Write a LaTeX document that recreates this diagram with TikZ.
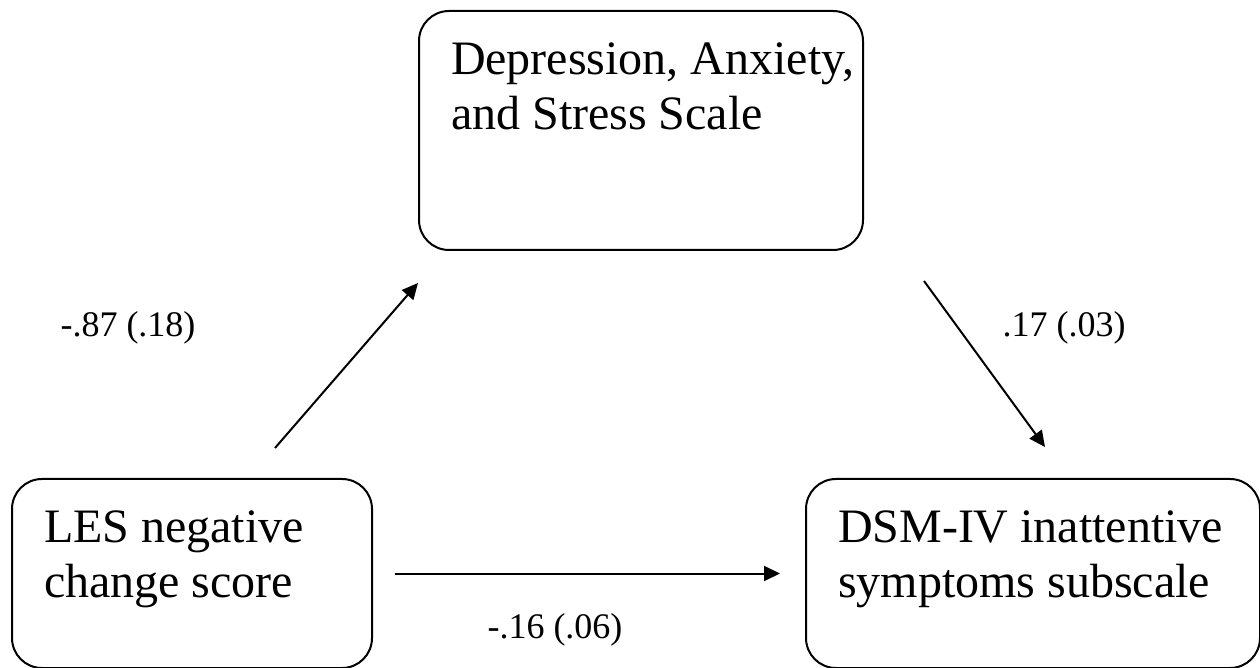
\documentclass[tikz,border=0pt]{standalone}
\usepackage{fontspec}
\setmainfont{Liberation Serif}
\usepackage{tikz}
\usetikzlibrary{arrows.meta,positioning}

\begin{document}
\begin{tikzpicture}[x=0.5pt,y=-0.5pt,
  varbox/.style={draw,line width=1pt,rounded corners=15pt,inner sep=16pt,anchor=north west,
    font=\fontsize{24}{27.5}\selectfont},
  coef/.style={inner sep=0pt,font=\fontsize{18}{21}\selectfont},
  path/.style={line width=1pt,-{Triangle[length=8pt,width=7.5pt]}}]
  \useasboundingbox (0,0) rectangle (1260,668);
  % the three measures
  \node[varbox] (les) at (11,478) {\parbox[t][62.5pt][t]{148pt}{LES negative\\change score}};
  \node[varbox,right=216pt of les,anchor=west] (dsm) {\parbox[t][62.5pt][t]{195pt}{\mbox{DSM-IV inattentive}\\\mbox{symptoms subscale}}};
  \node[varbox] (dass) at (418,10) {\parbox[t][87.5pt][t]{190pt}{\mbox{Depression, Anxiety,}\\and Stress Scale}};
  % paths
  \draw[path] ([shift={(41.5pt,15pt)}]les.north) -- ([yshift=-16pt]dass.south west);
  \draw[path] ([shift={(30pt,-15pt)}]dass.south east) -- ([shift={(6pt,15.5pt)}]dsm.north);
  \draw[path,shorten <=11pt,shorten >=12.5pt] (les.east) -- (dsm.west);
  % coefficients
  \node[coef] (a) at (128,328) {-.87 (.18)};
  \node[coef] (b) at (1064,328) {.17 (.03)};
  \node[coef] (c) at (555,630) {-.16 (.06)};
\end{tikzpicture}
\end{document}
